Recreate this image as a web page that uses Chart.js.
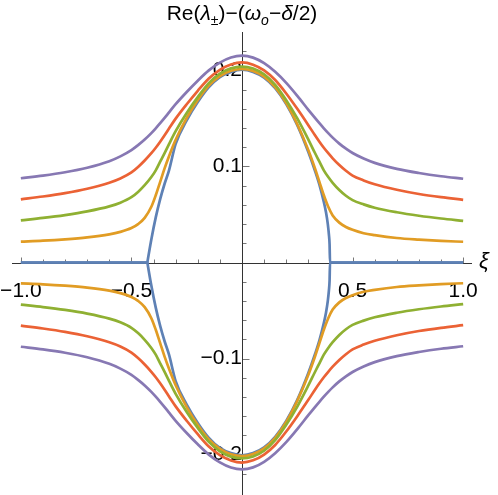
<!DOCTYPE html>
<html><head><meta charset="utf-8">
<script src="https://cdn.jsdelivr.net/npm/chart.js@4/dist/chart.umd.min.js"></script>
<style>html,body{margin:0;padding:0;background:#fff;}</style>
</head><body>
<canvas id="c" width="498" height="495"></canvas>
<script>
// ---- data ----
const xi = [-1, -0.9, -0.8, -0.7, -0.6, -0.55, -0.5, -0.47, -0.44, -0.41, -0.39, -0.37, -0.35, -0.33, -0.3, -0.25, -0.2, -0.15, -0.1, -0.05, 0,
            0.05, 0.1, 0.15, 0.2, 0.25, 0.3, 0.33, 0.35, 0.37, 0.39, 0.41, 0.44, 0.47, 0.5, 0.55, 0.6, 0.7, 0.8, 0.9, 1];

const orangeUpper = [0.0218, 0.0227, 0.0241, 0.0261, 0.0293, 0.0319, 0.0359, 0.040, 0.0465, 0.058, 0.070, 0.084, 0.098, 0.1107, 0.1278, 0.1506, 0.1693, 0.1843, 0.1941, 0.1996, 0.2015,
                     0.1995, 0.1935, 0.1825, 0.166, 0.144, 0.117, 0.098, 0.084, 0.070, 0.058, 0.049, 0.0415, 0.037, 0.034, 0.0305, 0.0285, 0.0255, 0.0238, 0.0225, 0.0216];
const orangeLower = [-0.0218, -0.0227, -0.0241, -0.0261, -0.0293, -0.0319, -0.0359, -0.040, -0.0465, -0.058, -0.070, -0.084, -0.098, -0.1107, -0.1278, -0.1506, -0.1693, -0.1843, -0.1941, -0.1996, -0.2015,
                     -0.1995, -0.1935, -0.1825, -0.166, -0.144, -0.117, -0.098, -0.084, -0.070, -0.058, -0.049, -0.0415, -0.037, -0.034, -0.0305, -0.0285, -0.0255, -0.0238, -0.0225, -0.0216];

const greenUpper = [0.0439, 0.0464, 0.0494, 0.0532, 0.0584, 0.0623, 0.068, 0.0735, 0.0805, 0.089, 0.096, 0.105, 0.114, 0.1233, 0.1368, 0.1557, 0.1722, 0.1868, 0.1966, 0.2021, 0.204,
                    0.202, 0.196, 0.185, 0.169, 0.150, 0.128, 0.114, 0.105, 0.096, 0.089, 0.083, 0.0755, 0.0695, 0.065, 0.0605, 0.057, 0.0523, 0.0487, 0.0458, 0.0434];
const greenLower = [-0.0439, -0.0464, -0.0494, -0.0532, -0.0584, -0.0623, -0.068, -0.0735, -0.0805, -0.089, -0.096, -0.105, -0.114, -0.1233, -0.1368, -0.1557, -0.1722, -0.1868, -0.1966, -0.2021, -0.204,
                    -0.202, -0.196, -0.185, -0.169, -0.150, -0.128, -0.114, -0.105, -0.096, -0.089, -0.083, -0.0755, -0.0695, -0.065, -0.0605, -0.057, -0.0523, -0.0487, -0.0458, -0.0434];

const redUpper = [0.0658, 0.0687, 0.0722, 0.0768, 0.0831, 0.0875, 0.0938, 0.0995, 0.1062, 0.1138, 0.1195, 0.1258, 0.1325, 0.1395, 0.1498, 0.1648, 0.1788, 0.1916, 0.2006, 0.2061, 0.2083,
                  0.206, 0.200, 0.190, 0.176, 0.160, 0.143, 0.1325, 0.1258, 0.1195, 0.1138, 0.1085, 0.1015, 0.0955, 0.0905, 0.0855, 0.0815, 0.0757, 0.0713, 0.068, 0.0653];
const redLower = [-0.0658, -0.0687, -0.0722, -0.0768, -0.0831, -0.0875, -0.0938, -0.0995, -0.1062, -0.1138, -0.1195, -0.1258, -0.1325, -0.1395, -0.1498, -0.1648, -0.1788, -0.1916, -0.2006, -0.2061, -0.2083,
                  -0.206, -0.200, -0.190, -0.176, -0.160, -0.143, -0.1325, -0.1258, -0.1195, -0.1138, -0.1085, -0.1015, -0.0955, -0.0905, -0.0855, -0.0815, -0.0757, -0.0713, -0.068, -0.0653];

const purpleUpper = [0.0877, 0.0905, 0.094, 0.0987, 0.1055, 0.1105, 0.117, 0.1222, 0.128, 0.1347, 0.1397, 0.145, 0.1505, 0.1563, 0.1648, 0.1775, 0.1893, 0.200, 0.2081, 0.2134, 0.2153,
                     0.2133, 0.2075, 0.1985, 0.187, 0.1735, 0.159, 0.1505, 0.145, 0.1397, 0.1347, 0.130, 0.1238, 0.1185, 0.114, 0.1082, 0.1037, 0.0975, 0.0932, 0.0898, 0.0872];
const purpleLower = [-0.0877, -0.0905, -0.094, -0.0987, -0.1055, -0.1105, -0.117, -0.1222, -0.128, -0.1347, -0.1397, -0.145, -0.1505, -0.1563, -0.1648, -0.1775, -0.1893, -0.200, -0.2081, -0.2134, -0.2153,
                     -0.2133, -0.2075, -0.1985, -0.187, -0.1735, -0.159, -0.1505, -0.145, -0.1397, -0.1347, -0.130, -0.1238, -0.1185, -0.114, -0.1082, -0.1037, -0.0975, -0.0932, -0.0898, -0.0872];

const blueXi = [-1, -0.428, -0.427, -0.41, -0.39, -0.37, -0.35, -0.33, -0.3, -0.25, -0.2, -0.15, -0.1, -0.05, 0,
                0.05, 0.1, 0.15, 0.2, 0.25, 0.3, 0.33, 0.35, 0.37, 0.38, 0.388, 0.393, 0.396, 0.398, 1];
const blueUpper = [0, 0, 0.0014, 0.024, 0.047, 0.066, 0.082, 0.096, 0.1235, 0.148, 0.167, 0.1825, 0.193, 0.1985, 0.2007,
                   0.1985, 0.1925, 0.1815, 0.165, 0.143, 0.115, 0.0955, 0.081, 0.063, 0.052, 0.040, 0.029, 0.019, 0, 0];
const blueLower = [0, 0, -0.0014, -0.024, -0.047, -0.066, -0.082, -0.096, -0.1235, -0.148, -0.167, -0.1825, -0.193, -0.1985, -0.2007,
                   -0.1985, -0.1925, -0.1815, -0.165, -0.143, -0.115, -0.0955, -0.081, -0.063, -0.052, -0.040, -0.029, -0.019, 0, 0];

const xTickValues = [-1, -0.5, 0.5, 1];
const xTickLabels = ['\u22121.0', '\u22120.5', '0.5', '1.0'];
const yTickValues = [-0.2, -0.1, 0.1, 0.2];
const yTickLabels = ['\u22120.2', '\u22120.1', '0.1', '0.2'];
const xMinorTicks = [-1, -0.9, -0.8, -0.7, -0.6, -0.5, -0.4, -0.3, -0.2, -0.1, 0.1, 0.2, 0.3, 0.4, 0.5, 0.6, 0.7, 0.8, 0.9, 1];
const yMinorTicks = [-0.22, -0.2, -0.18, -0.16, -0.14, -0.12, -0.1, -0.08, -0.06, -0.04, -0.02, 0.02, 0.04, 0.06, 0.08, 0.1, 0.12, 0.14, 0.16, 0.18, 0.2, 0.22];

const COLORS = {blue:'#5E81B5', orange:'#E19C24', green:'#8FB032', red:'#EB6235', purple:'#8778B3'};
const FONT = "'Liberation Sans', Arial, sans-serif";

function pts(xs, ys){ return xs.map((x,i)=>({x:x, y:ys[i]})); }
function ds(xs, ys, color, order){
  return {data: pts(xs, ys), borderColor: color, backgroundColor: color, borderWidth: 2.7,
          showLine: true, pointRadius: 0, fill: false, cubicInterpolationMode: 'monotone', order: order,
          borderCapStyle: 'butt', borderJoinStyle: 'round'};
}

const axesPlugin = {
  id: 'mmaAxes',
  beforeDatasetsDraw(chart){
    const {ctx, chartArea: a, scales: {x, y}} = chart;
    const x0 = Math.round(x.getPixelForValue(0)) + 0.5;
    const y0 = Math.round(y.getPixelForValue(0)) + 0.5;
    ctx.save();
    ctx.strokeStyle = '#777'; ctx.lineWidth = 1;
    xMinorTicks.forEach(v => {
      const px = Math.round(x.getPixelForValue(v)) + 0.5;
      const len = xTickValues.some(t => Math.abs(t - v) < 1e-9) ? 6 : 4;
      ctx.beginPath(); ctx.moveTo(px, y0); ctx.lineTo(px, y0 - len); ctx.stroke();
    });
    yMinorTicks.forEach(v => {
      const py = Math.round(y.getPixelForValue(v)) + 0.5;
      const len = yTickValues.some(t => Math.abs(t - v) < 1e-9) ? 7 : 4;
      ctx.beginPath(); ctx.moveTo(x0, py); ctx.lineTo(x0 + len, py); ctx.stroke();
    });
    ctx.strokeStyle = '#333';
    ctx.beginPath(); ctx.moveTo(a.left, y0); ctx.lineTo(a.right, y0); ctx.stroke();
    ctx.beginPath(); ctx.moveTo(x0, a.top); ctx.lineTo(x0, a.bottom + 2); ctx.stroke();
    ctx.restore();
  },
  afterDraw(chart){
    const {ctx, scales: {x, y}, chartArea: a} = chart;
    const x0 = x.getPixelForValue(0);
    const y0 = y.getPixelForValue(0);
    ctx.save();
    ctx.fillStyle = '#000';
    ctx.textBaseline = 'alphabetic';
    const S = 21, s = 14;
    const parts = [
      {t:'Re(', f:`${S}px ${FONT}`, dy:0},
      {t:'\u03BB', f:`italic ${S}px ${FONT}`, dy:0},
      {t:'\u00B1', f:`${s}px ${FONT}`, dy:5},
      {t:')\u2212(', f:`${S}px ${FONT}`, dy:0},
      {t:'\u03C9', f:`italic ${S}px ${FONT}`, dy:0},
      {t:'o', f:`italic ${s}px ${FONT}`, dy:5},
      {t:'\u2212', f:`${S}px ${FONT}`, dy:0},
      {t:'\u03B4', f:`italic ${S}px ${FONT}`, dy:0},
      {t:'/2)', f:`${S}px ${FONT}`, dy:0}
    ];
    let w = 0;
    parts.forEach(p => { ctx.font = p.f; p.w = ctx.measureText(p.t).width; w += p.w; });
    let cx = x0 - w / 2;
    const base = 20;
    parts.forEach(p => { ctx.font = p.f; ctx.fillText(p.t, cx, base + p.dy); cx += p.w; });
    ctx.font = `italic 22px ${FONT}`;
    ctx.textBaseline = 'middle';
    ctx.textAlign = 'left';
    ctx.fillText('\u03BE', a.right + 7, y0 - 1);
    ctx.restore();
  }
};

function zeroFitX(sc){ sc.height = 0; sc.paddingLeft = 0; sc.paddingRight = 0; sc.paddingTop = 0; sc.paddingBottom = 0; }
function zeroFitY(sc){ sc.width = 0; sc.paddingLeft = 0; sc.paddingRight = 0; sc.paddingTop = 0; sc.paddingBottom = 0; }

new Chart(document.getElementById('c'), {
  type: 'scatter',
  data: {
    datasets: [
      ds(blueXi, blueUpper, COLORS.blue, 5),
      ds(blueXi, blueLower, COLORS.blue, 5),
      ds(xi, orangeUpper, COLORS.orange, 4),
      ds(xi, orangeLower, COLORS.orange, 4),
      ds(xi, greenUpper, COLORS.green, 3),
      ds(xi, greenLower, COLORS.green, 3),
      ds(xi, redUpper, COLORS.red, 2),
      ds(xi, redLower, COLORS.red, 2),
      ds(xi, purpleUpper, COLORS.purple, 1),
      ds(xi, purpleLower, COLORS.purple, 1)
    ]
  },
  options: {
    responsive: false,
    animation: false,
    devicePixelRatio: 1,
    layout: {padding: {left: 12, right: 26, top: 32, bottom: 2}},
    plugins: {legend: {display: false}, tooltip: {enabled: false}},
    scales: {
      x: {
        type: 'linear', min: -1.04, max: 1.04, position: {y: 0},
        grid: {display: false}, border: {display: false},
        afterBuildTicks: sc => { sc.ticks = xTickValues.map(v => ({value: v})); },
        afterFit: zeroFitX,
        ticks: {autoSkip: false, maxRotation: 0, padding: 8, color: '#000',
                font: {family: FONT, size: 21},
                callback: (v) => { const i = xTickValues.findIndex(t => Math.abs(t - v) < 1e-9); return i >= 0 ? xTickLabels[i] : ''; }}
      },
      y: {
        type: 'linear', min: -0.24, max: 0.24, position: {x: 0},
        grid: {display: false}, border: {display: false},
        afterBuildTicks: sc => { sc.ticks = yTickValues.map(v => ({value: v})); },
        afterFit: zeroFitY,
        ticks: {autoSkip: false, padding: 6, color: '#000',
                font: {family: FONT, size: 21},
                callback: (v) => { const i = yTickValues.findIndex(t => Math.abs(t - v) < 1e-9); return i >= 0 ? yTickLabels[i] : ''; }}
      }
    }
  },
  plugins: [axesPlugin]
});
</script>
</body></html>
